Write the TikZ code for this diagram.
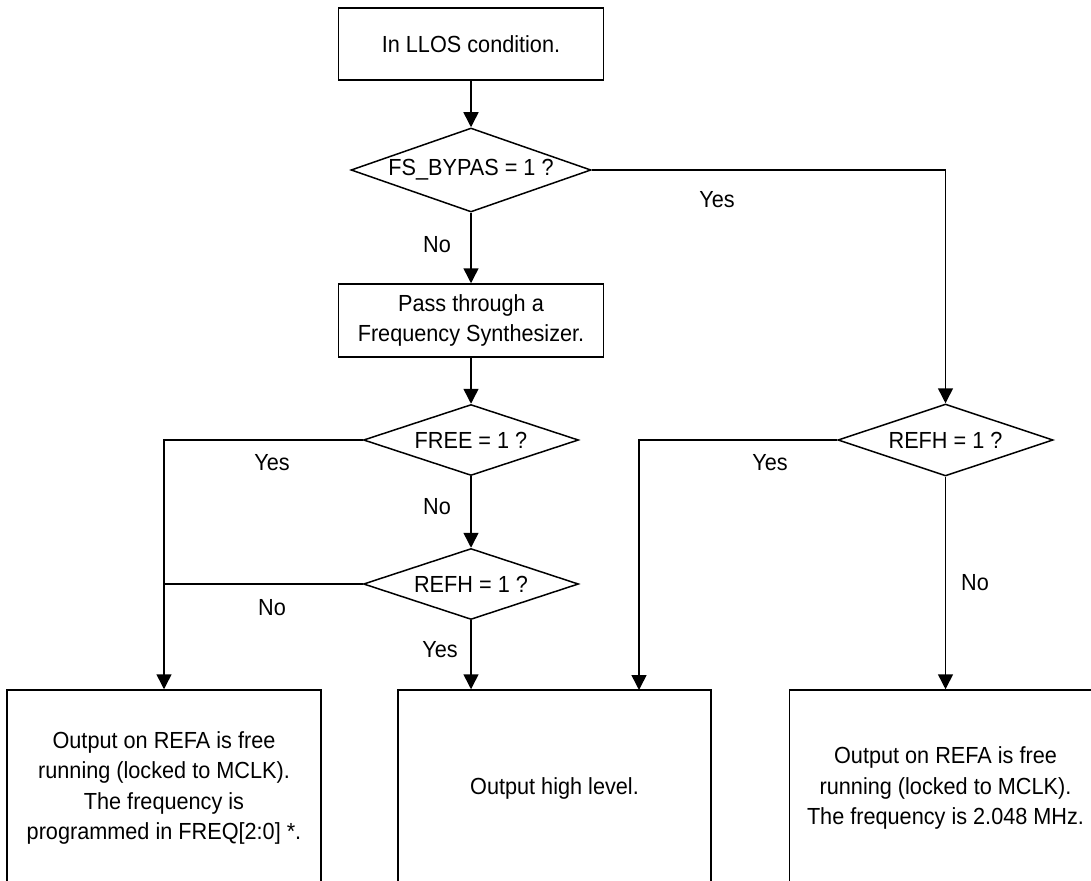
\documentclass[tikz,border=0pt]{standalone}
\usepackage{fontspec}
\setmainfont{Liberation Sans}[FakeStretch=0.93]
\usetikzlibrary{shapes.geometric,arrows.meta}
\begin{document}
\begin{tikzpicture}[x=1pt,y=-1pt,
  every node/.style={font=\fontsize{23.3}{30.5}\selectfont},
  procbox/.style={draw,line width=1.5pt,rectangle,inner sep=0pt,align=center},
  decbox/.style={draw,line width=1.5pt,diamond,aspect=3,inner sep=0pt},
  lbl/.style={inner sep=0pt},
  conn/.style={line width=1.5pt},
  arr/.style={conn,-{Triangle[length=15pt,width=15pt]}}]
\useasboundingbox (0,0) rectangle (1091,880);
\clip (0,0) rectangle (1091,880);
\node[procbox,minimum width=265pt,minimum height=72pt] (top) at (471,44) {In LLOS condition.};
\node[decbox,minimum width=240pt,minimum height=84pt] (fs) at (471,170) {FS\_BYPAS = 1 ?};
\node[procbox,minimum width=265pt,minimum height=73pt] (pass) at (471,320.5) {Pass through a\\Frequency Synthesizer.};
\node[decbox,minimum width=215pt,minimum height=71pt] (free) at (471,440) {FREE = 1 ?};
\node[decbox,minimum width=215pt,minimum height=71pt] (refhm) at (471,584) {REFH = 1 ?};
\node[decbox,minimum width=215pt,minimum height=72pt] (refhr) at (945.5,440) {REFH = 1 ?};
\node[procbox,minimum width=314pt,minimum height=196pt] (lbox) at (164,788) {Output on REFA is free\\running (locked to MCLK).\\The frequency is\\programmed in FREQ[2:0] *.};
\node[procbox,minimum width=313pt,minimum height=196pt] (mbox) at (554.5,788) {Output high level.};
\node[procbox,minimum width=312pt,minimum height=196pt] (rbox) at (945.5,788) {Output on REFA is free\\running (locked to MCLK).\\The frequency is 2.048 MHz.};
\coordinate (mtr) at (639,690);
\draw[arr] (top.south) -- (fs.north);
\draw[arr] (fs.south) -- (pass.north);
\draw[arr] (pass.south) -- (free.north);
\draw[arr] (free.south) -- (refhm.north);
\draw[arr] (fs.east) -| (refhr.north);
\draw[arr] (free.west) -| (lbox.north);
\draw[conn] (refhm.west) -- (refhm.west -| lbox.north);
\draw[arr] (refhm.south) -- (refhm.south |- mbox.north);
\draw[arr] (refhr.west) -| (mtr);
\draw[arr] (refhr.south) -- (rbox.north);
\node[lbl] (l1) at (717,200) {Yes};
\node[lbl] (l2) at (437,245) {No};
\node[lbl] (l3) at (272,463) {Yes};
\node[lbl] (l4) at (437,507) {No};
\node[lbl] (l5) at (272,608) {No};
\node[lbl] (l6) at (440,650) {Yes};
\node[lbl] (l7) at (770,463) {Yes};
\node[lbl] (l8) at (975,583) {No};
\end{tikzpicture}
\end{document}
